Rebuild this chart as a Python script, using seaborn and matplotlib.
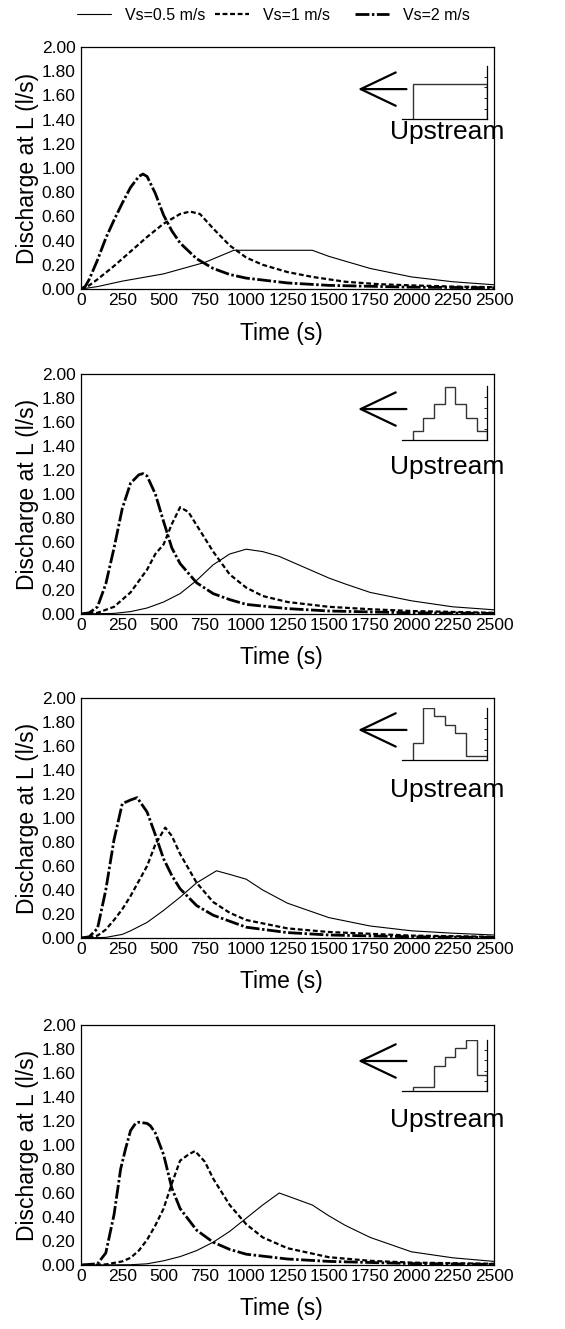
import numpy as np
import pandas as pd
import matplotlib
matplotlib.use("Agg")
import matplotlib.pyplot as plt
import seaborn as sns
from matplotlib.lines import Line2D

sns.set_theme(style="white")
plt.rcParams["font.family"] = ["Liberation Sans", "DejaVu Sans"]
plt.rcParams.update({"text.color": "black", "axes.labelcolor": "black",
                     "xtick.color": "black", "ytick.color": "black"})

# ---- outflow hydrographs at L, one set per upstream inflow shape ----
series_labels = ["Vs=0.5 m/s", "Vs=1 m/s", "Vs=2 m/s"]

# Panel 1: uniform inflow
p1_t05 = [0, 100, 250, 500, 750, 925, 1400, 1500, 1750, 2000, 2250, 2500]
p1_q05 = [0, 0.02, 0.065, 0.125, 0.22, 0.32, 0.32, 0.27, 0.17, 0.10, 0.06, 0.035]
p1_t1 = [0, 50, 100, 200, 300, 400, 500, 600, 660, 720, 800, 900, 1000, 1100, 1250, 1400, 1600, 1800, 2000, 2250, 2500]
p1_q1 = [0, 0.03, 0.08, 0.19, 0.31, 0.43, 0.54, 0.62, 0.64, 0.62, 0.50, 0.36, 0.26, 0.20, 0.14, 0.10, 0.06, 0.04, 0.03, 0.02, 0.015]
p1_t2 = [0, 25, 50, 100, 150, 200, 250, 300, 350, 375, 400, 450, 500, 550, 600, 700, 800, 900, 1000, 1250, 1500, 2000, 2500]
p1_q2 = [0, 0.02, 0.08, 0.24, 0.42, 0.57, 0.71, 0.84, 0.93, 0.95, 0.93, 0.79, 0.61, 0.48, 0.38, 0.25, 0.17, 0.12, 0.09, 0.05, 0.03, 0.015, 0.01]

# Panel 2: symmetric (centred) inflow
p2_t05 = [0, 200, 300, 400, 500, 600, 700, 800, 900, 1000, 1100, 1200, 1300, 1400, 1500, 1600, 1750, 2000, 2250, 2500]
p2_q05 = [0, 0.005, 0.02, 0.05, 0.10, 0.17, 0.28, 0.41, 0.50, 0.54, 0.52, 0.48, 0.42, 0.36, 0.30, 0.25, 0.18, 0.11, 0.06, 0.035]
p2_t1 = [0, 100, 200, 300, 400, 450, 500, 550, 600, 650, 700, 800, 900, 1000, 1100, 1250, 1500, 1750, 2000, 2500]
p2_q1 = [0, 0.01, 0.06, 0.18, 0.37, 0.50, 0.58, 0.75, 0.89, 0.85, 0.74, 0.52, 0.33, 0.22, 0.15, 0.10, 0.06, 0.04, 0.025, 0.01]
p2_t2 = [0, 50, 100, 150, 200, 250, 300, 350, 375, 400, 450, 500, 550, 600, 700, 800, 900, 1000, 1250, 1500, 2000, 2500]
p2_q2 = [0, 0.01, 0.06, 0.25, 0.55, 0.88, 1.09, 1.16, 1.17, 1.15, 1.00, 0.77, 0.55, 0.42, 0.26, 0.17, 0.12, 0.08, 0.045, 0.025, 0.01, 0.005]

# Panel 3: early-peaked inflow
p3_t05 = [0, 150, 250, 300, 400, 500, 600, 700, 820, 900, 1000, 1100, 1250, 1500, 1750, 2000, 2250, 2500]
p3_q05 = [0, 0.005, 0.03, 0.06, 0.13, 0.23, 0.34, 0.46, 0.56, 0.53, 0.49, 0.40, 0.29, 0.17, 0.10, 0.06, 0.04, 0.025]
p3_t1 = [0, 50, 100, 150, 200, 250, 300, 400, 450, 510, 550, 600, 700, 800, 900, 1000, 1250, 1500, 2000, 2500]
p3_q1 = [0, 0.005, 0.02, 0.07, 0.15, 0.24, 0.35, 0.60, 0.78, 0.92, 0.85, 0.70, 0.46, 0.30, 0.21, 0.15, 0.08, 0.05, 0.02, 0.01]
p3_t2 = [0, 50, 100, 150, 200, 250, 300, 340, 400, 450, 500, 550, 600, 700, 800, 1000, 1250, 1500, 2000, 2500]
p3_q2 = [0, 0.01, 0.08, 0.40, 0.82, 1.12, 1.15, 1.17, 1.05, 0.86, 0.66, 0.52, 0.41, 0.27, 0.19, 0.09, 0.045, 0.025, 0.01, 0.005]

# Panel 4: late-peaked inflow
p4_t05 = [0, 300, 400, 500, 600, 700, 800, 900, 1000, 1100, 1200, 1300, 1400, 1500, 1600, 1750, 2000, 2250, 2500]
p4_q05 = [0, 0.002, 0.01, 0.035, 0.07, 0.12, 0.19, 0.28, 0.39, 0.50, 0.60, 0.55, 0.50, 0.41, 0.33, 0.23, 0.11, 0.06, 0.03]
p4_t1 = [0, 150, 250, 300, 350, 400, 450, 500, 550, 600, 650, 690, 750, 800, 900, 1000, 1100, 1250, 1500, 1750, 2000, 2500]
p4_q1 = [0, 0.005, 0.03, 0.06, 0.12, 0.21, 0.33, 0.47, 0.68, 0.87, 0.92, 0.95, 0.86, 0.72, 0.50, 0.34, 0.23, 0.14, 0.065, 0.035, 0.02, 0.01]
p4_t2 = [0, 100, 150, 200, 240, 270, 300, 330, 350, 400, 420, 450, 500, 550, 600, 700, 800, 900, 1000, 1250, 1500, 2000, 2500]
p4_q2 = [0, 0.01, 0.10, 0.42, 0.80, 0.97, 1.12, 1.18, 1.19, 1.18, 1.16, 1.10, 0.92, 0.64, 0.47, 0.29, 0.19, 0.13, 0.09, 0.05, 0.03, 0.012, 0.005]

# Upstream inflow shapes (relative heights of 7 blocks, edges 1..8)
inflow_edges = [1, 2, 3, 4, 5, 6, 7, 8]
inflow_p1 = [0.67, 0.67, 0.67, 0.67, 0.67, 0.67, 0.67]
inflow_p2 = [0.167, 0.40, 0.66, 0.975, 0.66, 0.40, 0.167]
inflow_p3 = [0.32, 1.0, 0.84, 0.68, 0.52, 0.08, 0.08]
inflow_p4 = [0.07, 0.07, 0.49, 0.66, 0.84, 1.0, 0.31]

x_ticks = [0, 250, 500, 750, 1000, 1250, 1500, 1750, 2000, 2250, 2500]
y_ticks = [0.0, 0.2, 0.4, 0.6, 0.8, 1.0, 1.2, 1.4, 1.6, 1.8, 2.0]

panels = [
    dict(t=[p1_t05, p1_t1, p1_t2], q=[p1_q05, p1_q1, p1_q2], inflow=inflow_p1),
    dict(t=[p2_t05, p2_t1, p2_t2], q=[p2_q05, p2_q1, p2_q2], inflow=inflow_p2),
    dict(t=[p3_t05, p3_t1, p3_t2], q=[p3_q05, p3_q1, p3_q2], inflow=inflow_p3),
    dict(t=[p4_t05, p4_t1, p4_t2], q=[p4_q05, p4_q1, p4_q2], inflow=inflow_p4),
]

# ---- layout (pixel geometry) ----
W, H = 565, 1329
ax_left, ax_w = 81, 413
ax_top_px = [47, 374, 698, 1025]
ax_bot_px = [289, 614, 938, 1265]
# inset rectangles in axes fraction: (x0, y0, w, h); arrow y and label y
inset_rects = [
    (0.777, 0.702, 0.207, 0.219),
    (0.777, 0.725, 0.207, 0.225),
    (0.777, 0.742, 0.207, 0.216),
    (0.777, 0.725, 0.207, 0.2125),
]
arrow_y = [0.826, 0.854, 0.867, 0.85]
label_y = [0.649, 0.613, 0.617, 0.604]
legend_x_px = [77, 215, 355]

styles = [
    dict(linestyle="-", lw=0.8),
    dict(linestyle=(0, (2.2, 1.2)), lw=1.6),
    dict(linestyle=(0, (5.0, 0.9, 0.9, 0.9)), lw=2.0),
]

fig = plt.figure(figsize=(W / 100, H / 100), dpi=100)

for i, p in enumerate(panels):
    top, bot = ax_top_px[i], ax_bot_px[i]
    ax = fig.add_axes([ax_left / W, 1 - bot / H, ax_w / W, (bot - top) / H])
    for k in range(3):
        df = pd.DataFrame({"t": p["t"][k], "q": p["q"][k]})
        sns.lineplot(data=df, x="t", y="q", ax=ax, color="black",
                     estimator=None, sort=False, **styles[k])
    ax.set_xlim(0, 2500)
    ax.set_ylim(0, 2.0)
    ax.set_xticks(x_ticks)
    ax.set_yticks(y_ticks)
    ax.set_yticklabels([f"{v:.2f}" for v in y_ticks])
    ax.tick_params(axis="both", direction="in", length=5, width=0.8,
                   labelsize=12.5, colors="black", pad=3)
    ax.tick_params(axis="y", pad=4)
    for s in ax.spines.values():
        s.set_color("black")
        s.set_linewidth(0.9)
    ax.set_xlabel("Time (s)", fontsize=16.5, labelpad=7)
    ax.xaxis.set_label_coords(0.485, -0.135)
    ax.set_ylabel("Discharge at L (l/s)", fontsize=16.5, labelpad=2)

    # upstream inflow shape sketch
    ins = ax.inset_axes(inset_rects[i])
    ins.stairs(p["inflow"], inflow_edges, baseline=0, color="#333333", lw=1.0)
    ins.set_xlim(0, 8)
    ins.set_ylim(0, 1.0)
    ins.patch.set_alpha(0)
    ins.spines["top"].set_visible(False)
    ins.spines["left"].set_visible(False)
    for s in ("bottom", "right"):
        ins.spines[s].set_color("black")
        ins.spines[s].set_linewidth(0.9)
    ins.yaxis.tick_right()
    ins.set_xticks(range(1, 8))
    ins.set_yticks([0.2, 0.4, 0.6, 0.8])
    ins.tick_params(axis="both", direction="in", length=2, width=0.6,
                    labelbottom=False, labelright=False, labelleft=False)

    ax.annotate("", xy=(0.671, arrow_y[i]), xytext=(0.788, arrow_y[i]),
                xycoords="axes fraction",
                arrowprops=dict(arrowstyle="->,head_length=2.1,head_width=1.0",
                                color="black", lw=1.6, shrinkA=0, shrinkB=0))
    ax.text(0.886, label_y[i], "Upstream", transform=ax.transAxes,
            ha="center", va="center", fontsize=19)

# one legend entry per series, laid out along the top edge
for k in range(3):
    h = Line2D([], [], color="black", **styles[k])
    fig.legend([h], [series_labels[k]], loc="center left",
               bbox_to_anchor=(legend_x_px[k] / W, 1 - 15 / H),
               frameon=False, fontsize=11.5, handlelength=2.15,
               handletextpad=0.85, borderpad=0, borderaxespad=0)

fig.savefig("out.png", dpi=100)
